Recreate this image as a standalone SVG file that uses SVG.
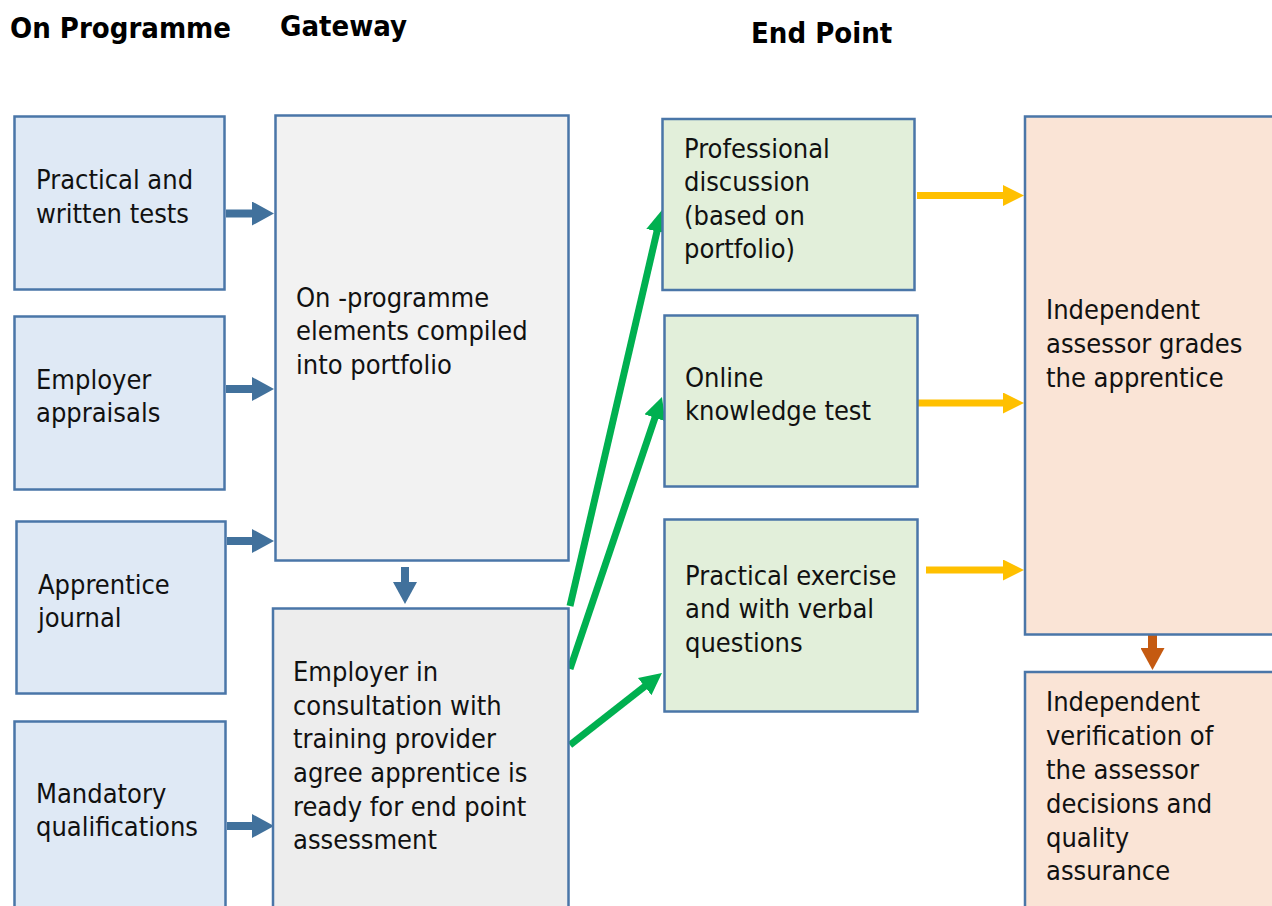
<svg xmlns="http://www.w3.org/2000/svg" width="1272" height="906" viewBox="0 0 1272 906">
<style>
.hd{font-family:"DejaVu Sans Condensed","DejaVu Sans",Verdana,sans-serif;font-weight:bold;font-size:29px;fill:#000}
.t{font-family:"DejaVu Sans Condensed","DejaVu Sans",Verdana,sans-serif;font-size:27px;fill:#111}
.box{stroke:#4a76a8;stroke-width:2.5}
.blue{fill:#dfe9f5}
.gw1{fill:#f2f2f2}
.gw2{fill:#ededed}
.grn{fill:#e2efda}
.pch{fill:#fae4d6}
.ab{stroke:#41719c;stroke-width:8;fill:none}
.ag{stroke:#00b050;stroke-width:7;fill:none}
.ay{stroke:#ffc000;stroke-width:7;fill:none}
.ao{stroke:#c55a11;stroke-width:9;fill:none}
</style>
<defs>
<marker id="mb" viewBox="0 0 22 24" refX="2" refY="12" markerWidth="22" markerHeight="24" markerUnits="userSpaceOnUse" orient="auto"><path d="M0,0 L22,12 L0,24 z" fill="#41719c"/></marker>
<marker id="mg" viewBox="0 0 22 22" refX="4" refY="11" markerWidth="22" markerHeight="22" markerUnits="userSpaceOnUse" orient="auto"><path d="M0,0 L22,11 L0,22 z" fill="#00b050"/></marker>
<marker id="my" viewBox="0 0 21 21" refX="2" refY="10.5" markerWidth="21" markerHeight="21" markerUnits="userSpaceOnUse" orient="auto"><path d="M0,0 L21,10.5 L0,21 z" fill="#ffc000"/></marker>
<marker id="mo" viewBox="0 0 22 24" refX="2" refY="12" markerWidth="22" markerHeight="24" markerUnits="userSpaceOnUse" orient="auto"><path d="M0,0 L22,12 L0,24 z" fill="#c55a11"/></marker>
</defs>
<rect width="1272" height="906" fill="#fff"/>
<g id="headers">
<text class="hd" x="10" y="38">On Programme</text>
<text class="hd" x="280" y="36">Gateway</text>
<text class="hd" x="751" y="43">End Point</text>
</g>
<g id="connectors">
<line class="ab" x1="226" y1="213.5" x2="254" y2="213.5" marker-end="url(#mb)"/>
<line class="ab" x1="226" y1="389" x2="254" y2="389" marker-end="url(#mb)"/>
<line class="ab" x1="227" y1="541" x2="254" y2="541" marker-end="url(#mb)"/>
<line class="ab" x1="227" y1="826" x2="254" y2="826" marker-end="url(#mb)"/>
<line class="ab" x1="405" y1="567" x2="405" y2="584" marker-end="url(#mb)"/>
<line class="ag" x1="570" y1="606" x2="657.9" y2="227.5" marker-end="url(#mg)"/>
<line class="ag" x1="570" y1="669" x2="656.2" y2="414.05" marker-end="url(#mg)"/>
<line class="ag" x1="570" y1="745" x2="647.8" y2="684.1" marker-end="url(#mg)"/>
<line class="ay" x1="917" y1="195.5" x2="1005" y2="195.5" marker-end="url(#my)"/>
<line class="ay" x1="918" y1="403" x2="1005" y2="403" marker-end="url(#my)"/>
<line class="ay" x1="926" y1="570" x2="1005" y2="570" marker-end="url(#my)"/>
<line class="ao" x1="1152.5" y1="635" x2="1152.5" y2="650" marker-end="url(#mo)"/>
</g>
<g id="n1"><rect class="box blue" x="14.5" y="116.5" width="210" height="173"/>
<text class="t" x="36" y="189">Practical and</text><text class="t" x="36" y="223">written tests</text></g>
<g id="n2"><rect class="box blue" x="14.5" y="316.5" width="210" height="173"/>
<text class="t" x="36" y="389">Employer</text><text class="t" x="36" y="422">appraisals</text></g>
<g id="n3"><rect class="box blue" x="16.5" y="521.5" width="209" height="172"/>
<text class="t" x="38" y="594">Apprentice</text><text class="t" x="38" y="627">journal</text></g>
<g id="n4"><rect class="box blue" x="14.5" y="721.5" width="211" height="200"/>
<text class="t" x="36" y="803">Mandatory</text><text class="t" x="36" y="836">qualifications</text></g>
<g id="n5"><rect class="box gw1" x="275.5" y="115.5" width="293" height="445"/>
<text class="t" x="296" y="307">On -programme</text><text class="t" x="296" y="340">elements compiled</text><text class="t" x="296" y="374">into portfolio</text></g>
<g id="n6"><rect class="box gw2" x="273" y="608.5" width="295.5" height="320"/>
<text class="t" x="293" y="681">Employer in</text><text class="t" x="293" y="715">consultation with</text><text class="t" x="293" y="748">training provider</text><text class="t" x="293" y="782">agree apprentice is</text><text class="t" x="293" y="816">ready for end point</text><text class="t" x="293" y="849">assessment</text></g>
<g id="n7"><rect class="box grn" x="662.5" y="119" width="252" height="171"/>
<text class="t" x="684" y="158">Professional</text><text class="t" x="684" y="191">discussion</text><text class="t" x="684" y="225">(based on</text><text class="t" x="684" y="258">portfolio)</text></g>
<g id="n8"><rect class="box grn" x="664.5" y="315.5" width="253" height="171"/>
<text class="t" x="685" y="387">Online</text><text class="t" x="685" y="420">knowledge test</text></g>
<g id="n9"><rect class="box grn" x="664.5" y="519.5" width="253" height="192"/>
<text class="t" x="685" y="585">Practical exercise</text><text class="t" x="685" y="618">and with verbal</text><text class="t" x="685" y="652">questions</text></g>
<g id="n10"><rect class="box pch" x="1025" y="116.5" width="270" height="518"/>
<text class="t" x="1046" y="319">Independent</text><text class="t" x="1046" y="353">assessor grades</text><text class="t" x="1046" y="387">the apprentice</text></g>
<g id="n11"><rect class="box pch" x="1025" y="672" width="270" height="260"/>
<text class="t" x="1046" y="711">Independent</text><text class="t" x="1046" y="745">verification of</text><text class="t" x="1046" y="779">the assessor</text><text class="t" x="1046" y="813">decisions and</text><text class="t" x="1046" y="847">quality</text><text class="t" x="1046" y="880">assurance</text></g>
</svg>
